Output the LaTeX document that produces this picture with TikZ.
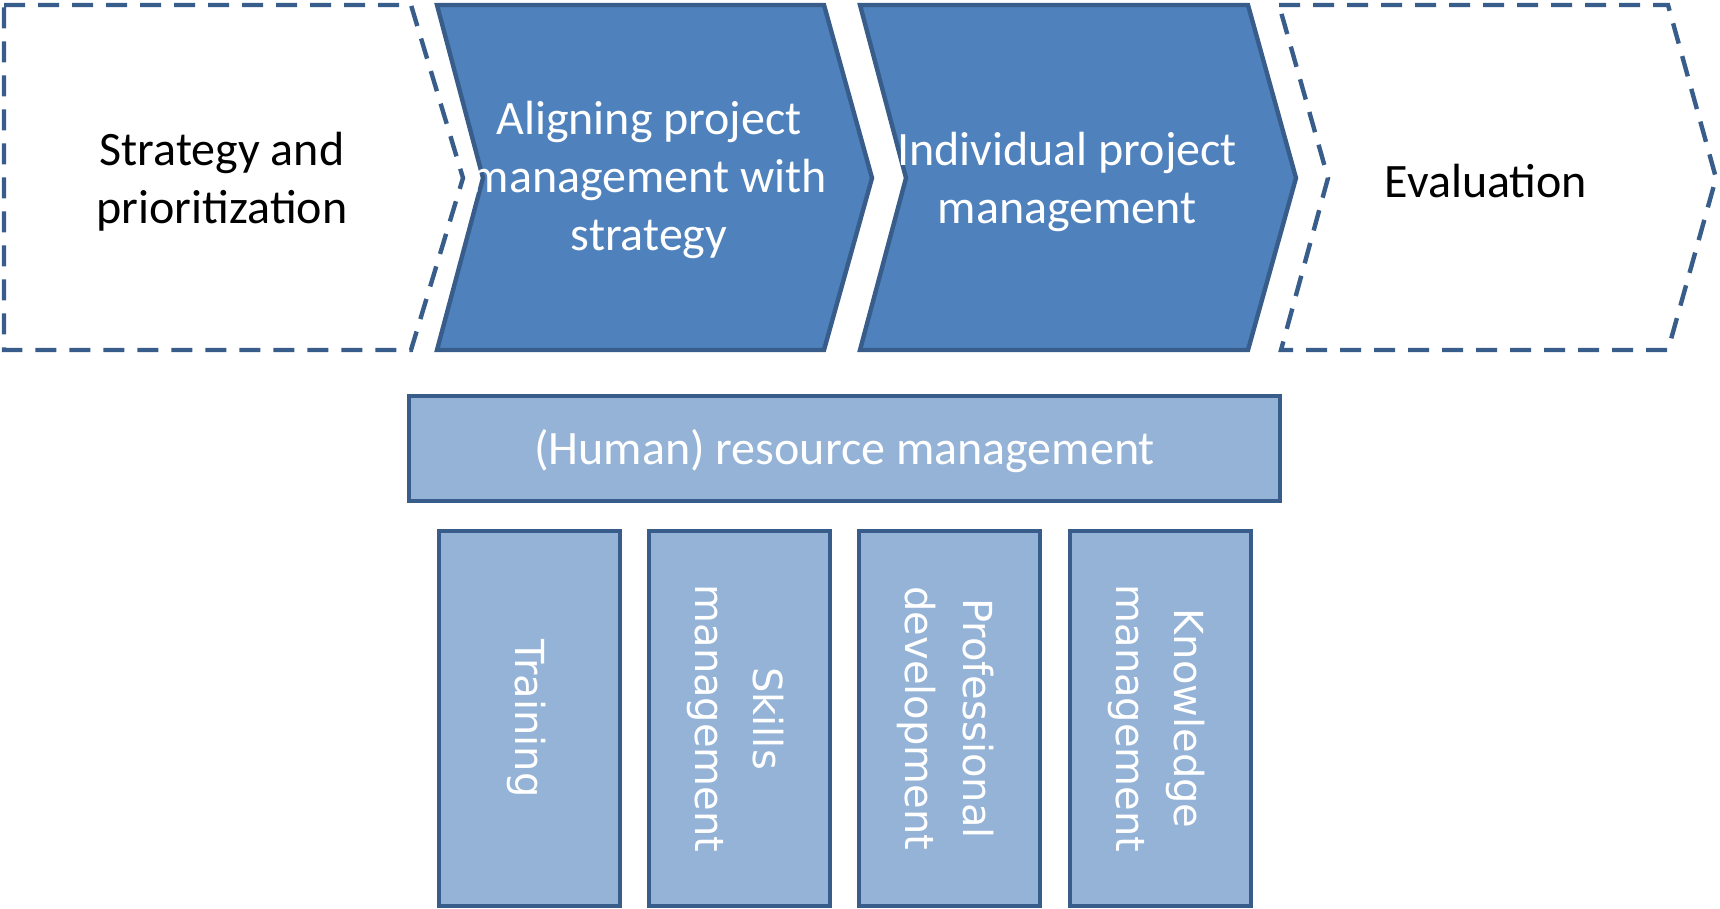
\documentclass[tikz,border=0pt]{standalone}
\usepackage{fontspec}
\setmainfont{Carlito}
\newfontfamily\vfont{DejaVu Sans}
\definecolor{edgeblue}{HTML}{385D8A}
\definecolor{darkblue}{HTML}{4F81BD}
\definecolor{lightblue}{HTML}{95B3D7}
\begin{document}
\begin{tikzpicture}[x=1pt,y=-1pt,
  dashshape/.style={draw=edgeblue, line width=4.4pt, dash pattern=on 21pt off 13pt, fill=white, line join=miter},
  chev/.style={draw=edgeblue, line width=4.4pt, fill=darkblue, line join=miter},
  box/.style={draw=edgeblue, line width=4.4pt, fill=lightblue, inner sep=0pt},
  pillar/.style={box, minimum width=181pt, minimum height=375pt},
  lbl/.style={font=\fontsize{48}{58}\selectfont, align=center},
  vlbl/.style={font=\vfont\fontsize{40}{58}\selectfont, align=center, text=white, rotate=-90}
]
\useasboundingbox (0,0) rectangle (1720,909);

% top row shapes
\draw[dashshape] (4,5) -- (411,5) -- (463,178) -- (411,350) -- (4,350) -- cycle;
\draw[chev] (437,5) -- (824,5) -- (872,178) -- (824,350) -- (437,350) -- (483,178) -- cycle;
\draw[chev] (860,5) -- (1248,5) -- (1296,178) -- (1248,350) -- (860,350) -- (906,178) -- cycle;
\draw[dashshape] (1279,5) -- (1668,5) -- (1716,178) -- (1668,350) -- (1281,350) -- (1328,178) -- cycle;

\node[lbl] (strat) at (222,182) {Strategy and\\prioritization};
\node[lbl, text=white] (align) at (649,180) {Aligning project\\management with\\strategy};
\node[lbl, text=white] (indiv) at (1067,182) {Individual project\\management};
\node[lbl] (eval) at (1486,181) {Evaluation};

% resource management
\node[box, minimum width=871pt, minimum height=105pt] (hrm) at (844.5,448.5) {};
\node[lbl, text=white] (hrmtext) at (844.5,451.5) {(Human) resource management};

\node[pillar] (train) at (529.5,718.5) {};
\node[pillar] (skills) at (739.5,718.5) {};
\node[pillar] (prof) at (949.5,718.5) {};
\node[pillar] (know) at (1160.5,718.5) {};

\node[vlbl] (traintext) at (527,718.5) {Training};
\node[vlbl] (skillstext) at (736,718.5) {Skills\\management};
\node[vlbl] (proftext) at (946,718.5) {Professional\\development};
\node[vlbl] (knowtext) at (1157,718.5) {Knowledge\\management};
\end{tikzpicture}
\end{document}
